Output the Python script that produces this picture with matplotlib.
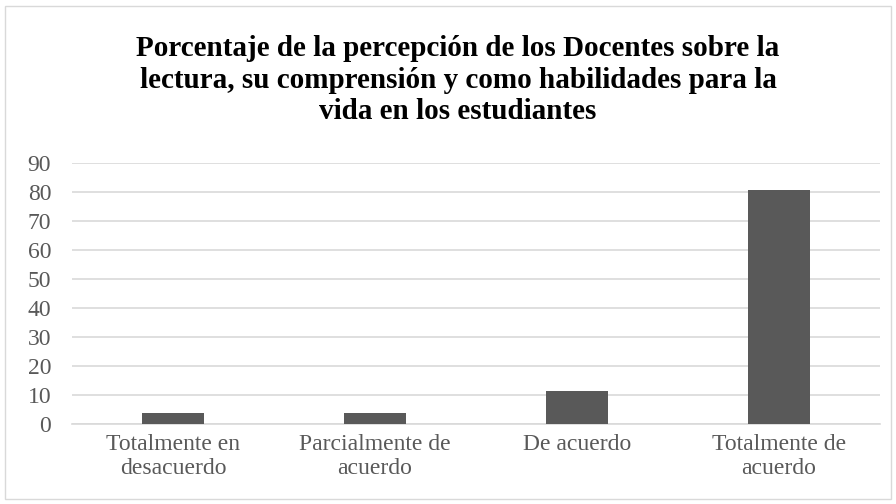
import matplotlib.pyplot as plt
from matplotlib.patches import Rectangle

categories = ['Totalmente en\ndesacuerdo', 'Parcialmente de\nacuerdo',
              'De acuerdo', 'Totalmente de\nacuerdo']
values = [3.85, 3.85, 11.54, 80.77]
yticks = [0, 10, 20, 30, 40, 50, 60, 70, 80, 90]
title = ('Porcentaje de la percepción de los Docentes sobre la\n'
         'lectura, su comprensión y como habilidades para la\n'
         'vida en los estudiantes')

plt.rcParams['font.family'] = ['Liberation Serif', 'DejaVu Serif']

fig = plt.figure(figsize=(8.96, 5.04), dpi=100)
ax = fig.add_axes([72 / 896, 1 - 424 / 504, (880 - 72) / 896, (424 - 163) / 504])

x = range(len(categories))
ax.bar(x, values, width=0.31, color='#595959', zorder=3)

ax.set_xlim(-0.5, len(categories) - 0.5)
ax.set_ylim(0, 90)
ax.set_yticks(yticks)
ax.set_xticks(list(x))
ax.set_xticklabels(categories)
ax.tick_params(axis='both', length=0, labelsize=17, labelcolor='#595959')
ax.tick_params(axis='x', pad=7)
ax.tick_params(axis='y', pad=15)
ax.grid(axis='y', color='#d9d9d9', linewidth=1.2, zorder=0)
for s in ['top', 'right', 'left']:
    ax.spines[s].set_visible(False)
ax.spines['bottom'].set_color('#d9d9d9')
ax.spines['bottom'].set_linewidth(1.2)

fig.text(458 / 896, 1 - 80 / 504, title, ha='center', va='center',
         fontsize=21, fontweight='bold', color='black', linespacing=1.2)

fig.patches.append(Rectangle((5 / 896, 5 / 504), 886 / 896, 493 / 504,
                             transform=fig.transFigure, fill=False,
                             edgecolor='#d9d9d9', linewidth=1))

fig.savefig('out.png', dpi=100)
